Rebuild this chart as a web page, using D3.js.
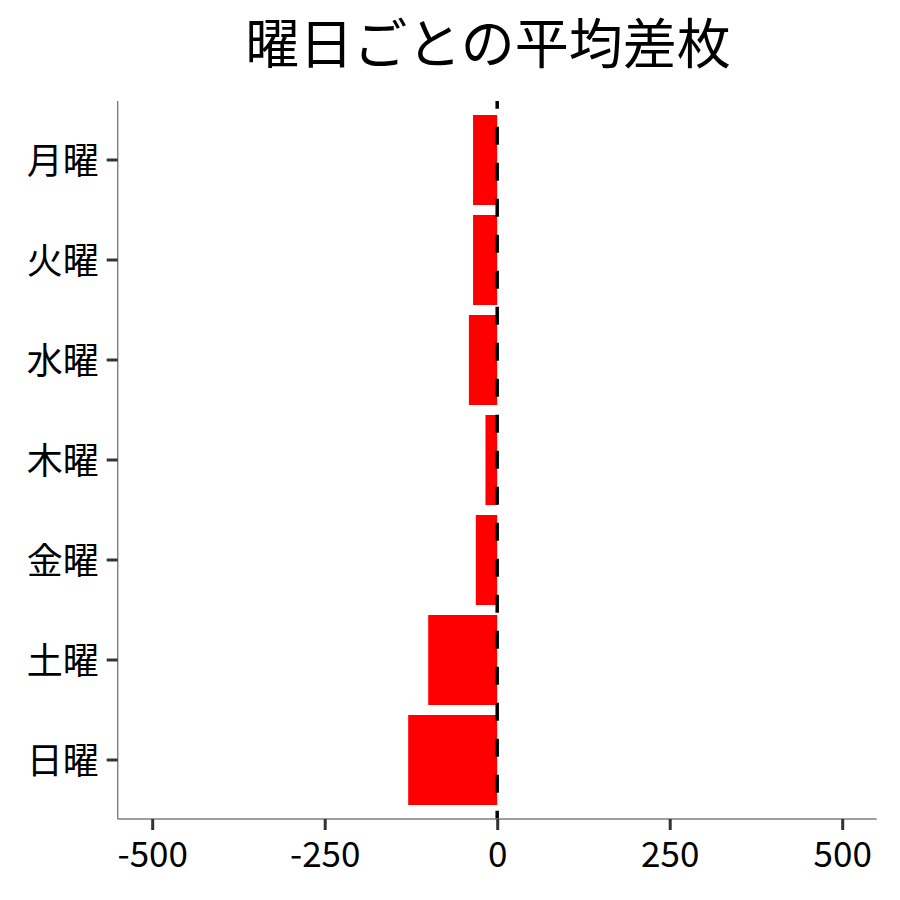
<!DOCTYPE html>
<html>
<head>
  <meta charset="utf-8" />
  <title>曜日ごとの平均差枚</title>
  <script src="https://cdn.jsdelivr.net/npm/d3@7"></script>
  <style>
    body { margin: 0; background: white; }
    text { font-family: "Noto Sans CJK JP", "Noto Sans", sans-serif; }
  </style>
</head>
<body>
<div id="vis"></div>
<script>
  // data
  var days = ["月曜", "火曜", "水曜", "木曜", "金曜", "土曜", "日曜"];
  var diffs = [-35, -35, -41, -17, -31, -100, -129];
  var xTicks = [-500, -250, 0, 250, 500];
  var xDomain = [-550, 550];

  var w = 900, h = 900;
  var panelLeft = 117.7, panelRight = 876.7, panelTop = 101, panelBottom = 819;

  var svg = d3.select("#vis").append("svg")
    .attr("width", w)
    .attr("height", h);

  svg.append("rect").attr("width", w).attr("height", h).attr("fill", "white");

  var x = d3.scaleLinear().domain(xDomain).range([panelLeft, panelRight]);
  var y = d3.scaleBand().domain(days).range([110, 810])
    .paddingInner(0.1).paddingOuter(0.05);

  // bars
  svg.selectAll("rect.bar")
    .data(days)
    .enter()
    .append("rect")
    .attr("class", "bar")
    .attr("x", function(d, i) { return x(Math.min(0, diffs[i])); })
    .attr("width", function(d, i) { return Math.abs(x(diffs[i]) - x(0)); })
    .attr("y", function(d) { return y(d); })
    .attr("height", y.bandwidth())
    .attr("fill", "#ff0000");

  // dashed zero line
  svg.append("line")
    .attr("x1", x(0)).attr("x2", x(0))
    .attr("y1", panelTop).attr("y2", panelBottom)
    .attr("stroke", "black")
    .attr("stroke-width", 3.5)
    .attr("stroke-dasharray", "18,18")
    .attr("stroke-dashoffset", 10.3);

  // x axis
  var xAxis = svg.append("g")
    .attr("transform", "translate(0," + panelBottom + ")")
    .call(d3.axisBottom(x).tickValues(xTicks).tickSize(11).tickSizeOuter(0)
      .tickFormat(d3.format("d")));
  xAxis.select(".domain").attr("stroke", "#7f7f7f").attr("stroke-width", 1.4)
    .attr("d", "M" + panelLeft + ",0H" + panelRight);
  xAxis.selectAll(".tick line").attr("stroke", "#333333").attr("stroke-width", 3);
  xAxis.selectAll(".tick text")
    .attr("y", 48).attr("dy", 0)
    .attr("fill", "black")
    .style("font-size", "35px")
    .style("font-family", "'Noto Sans CJK JP', sans-serif")
    .text(function(d) { return d < 0 ? "-" + Math.abs(d) : d; });

  // y axis
  var yAxis = svg.append("g")
    .attr("transform", "translate(" + panelLeft + ",0)")
    .call(d3.axisLeft(y).tickSize(11).tickSizeOuter(0));
  yAxis.select(".domain").attr("stroke", "#7f7f7f").attr("stroke-width", 1.4)
    .attr("d", "M0," + panelTop + "V" + panelBottom);
  yAxis.selectAll(".tick line").attr("stroke", "#333333").attr("stroke-width", 3);
  yAxis.selectAll(".tick text")
    .attr("x", -19).attr("dy", "0.38em")
    .attr("fill", "black")
    .style("font-size", "36px")
    .style("font-family", "'Noto Sans CJK JP', sans-serif");

  // title
  svg.append("text")
    .attr("x", 488)
    .attr("y", 64)
    .attr("text-anchor", "middle")
    .style("font-size", "54px")
    .text("曜日ごとの平均差枚");
</script>
</body>
</html>
